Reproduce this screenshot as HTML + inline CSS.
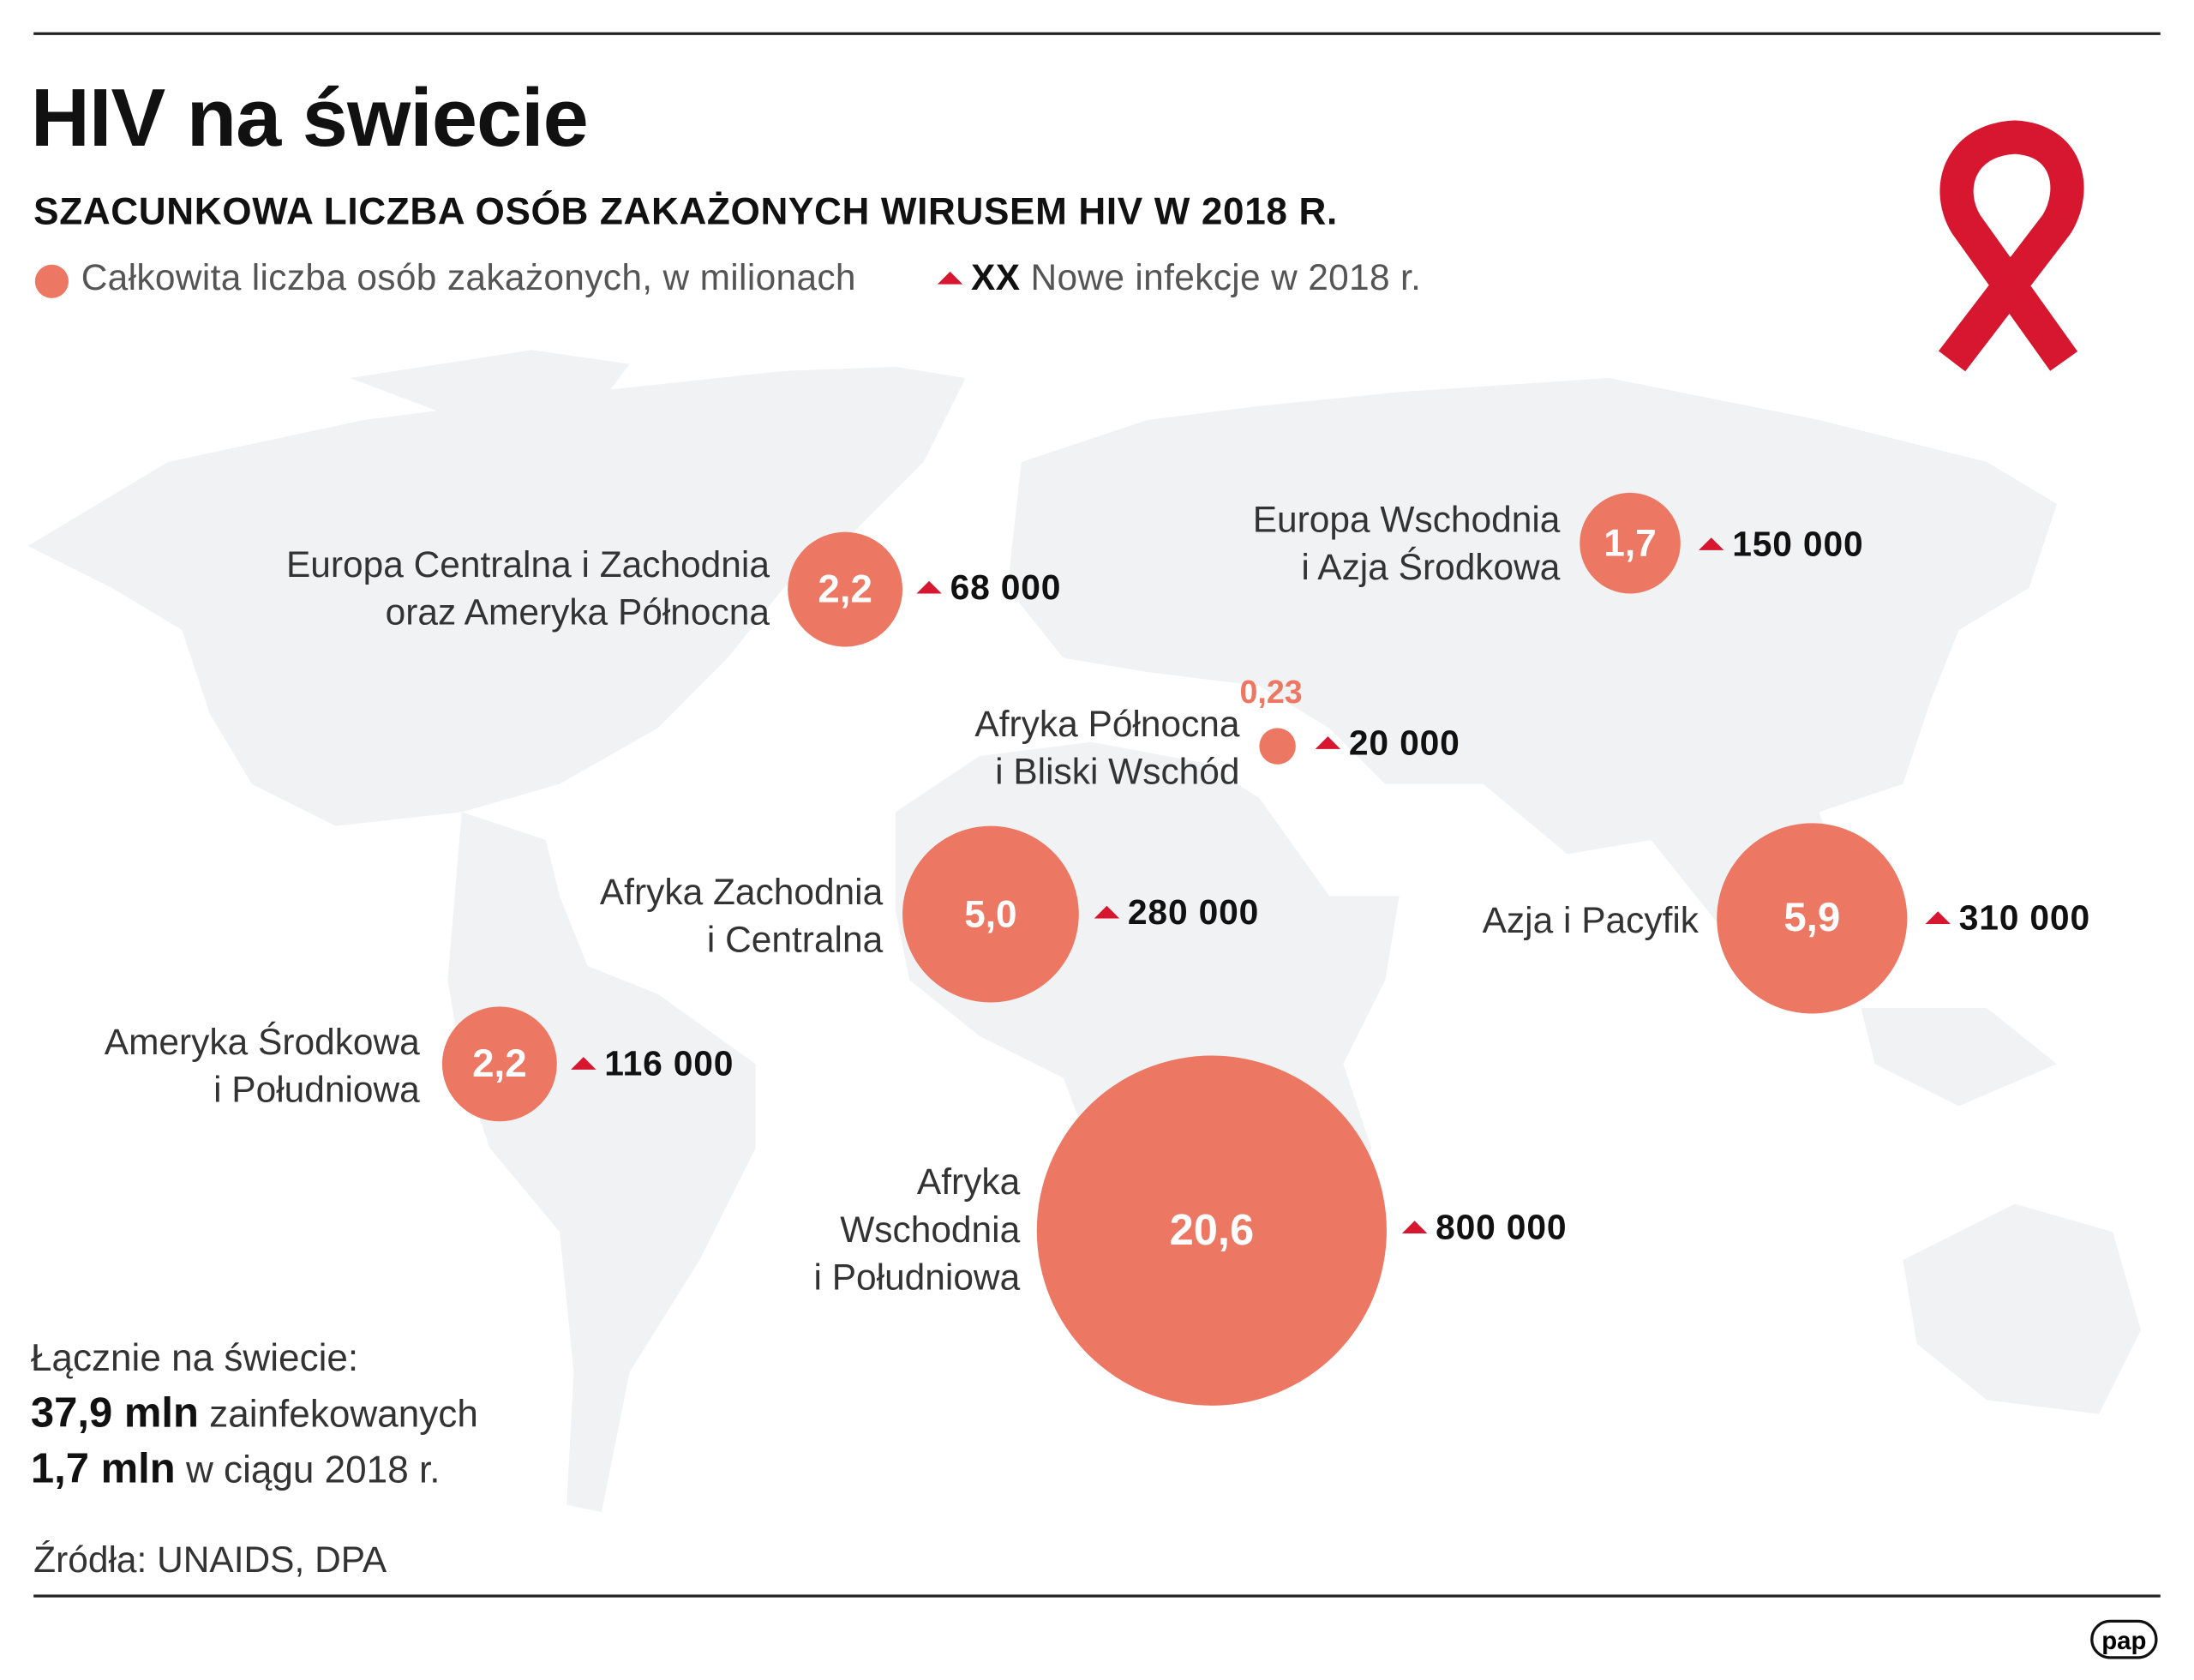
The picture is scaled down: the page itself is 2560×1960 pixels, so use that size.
<!DOCTYPE html>
<html><head><meta charset="utf-8"><style>
html,body{margin:0;padding:0;background:#fff;}
#wrap{width:1568px;height:1200px;position:relative;transform:scale(1.63265,1.63333);transform-origin:0 0;font-family:"Liberation Sans",sans-serif;overflow:hidden;}
.t{position:absolute;white-space:nowrap;}
.r{text-align:right;}
.lab{font-size:26px;color:#333;line-height:34px;}
.num{font-size:25px;font-weight:bold;color:#111;letter-spacing:0.5px;}
.c{position:absolute;border-radius:50%;background:#ec7863;color:#fff;font-weight:bold;display:flex;align-items:center;justify-content:center;}
.tri{display:inline-block;width:0;height:0;border-left:9px solid transparent;border-right:9px solid transparent;border-bottom:9px solid #d6172f;margin-right:6px;vertical-align:4px;}
</style></head><body><div id="wrap">
<svg width="1568" height="1200" style="position:absolute;left:0;top:0">
<g fill="#f0f2f3">
<path d="M20,390 L120,330 L260,300 L420,280 L560,265 L640,262 L690,270 L660,330 L610,380 L560,420 L520,470 L470,520 L400,560 L330,580 L240,590 L180,560 L150,510 L130,450 L80,420 Z"/>
<path d="M330,580 L390,600 L400,640 L420,690 L470,710 L540,760 L540,820 L500,900 L450,980 L430,1080 L405,1075 L410,980 L400,880 L350,820 L330,760 L320,700 Z"/>
<path d="M640,580 L700,540 L780,530 L860,545 L900,570 L950,640 L1000,640 L990,700 L960,760 L980,820 L960,880 L940,950 L890,1000 L850,1000 L810,920 L790,850 L760,770 L700,740 L650,700 L640,650 Z"/>
<path d="M730,330 L820,300 L900,290 L1000,280 L1150,270 L1300,300 L1420,330 L1470,360 L1450,420 L1400,450 L1380,500 L1360,560 L1300,580 L1320,640 L1260,700 L1220,650 L1180,600 L1120,610 L1060,560 L990,560 L950,520 L900,490 L820,480 L760,470 L720,420 Z"/>
<path d="M1330,720 L1420,720 L1470,760 L1400,790 L1340,760 Z"/>
<path d="M1360,900 L1440,860 L1510,880 L1530,950 L1500,1010 L1420,1000 L1370,960 Z"/>
<path d="M250,270 L380,250 L450,260 L420,300 L330,300 Z"/>
</g>
<line x1="24" y1="24" x2="1544" y2="24" stroke="#222" stroke-width="2"/>
<line x1="24" y1="1140" x2="1544" y2="1140" stroke="#222" stroke-width="2"/>
<g fill="none" stroke="#d6172f" stroke-width="24" stroke-linejoin="round">
<path d="M1475,258 L1405,160 C1390,135 1400,100 1440,98 C1478,100 1485,135 1470,160 L1395,258"/>
</g>
</svg>
<div class="t" style="left:22px;top:51px;font-size:58.5px;font-weight:bold;color:#111;letter-spacing:-0.6px">HIV na świecie</div>
<div class="t" style="left:24px;top:136px;font-size:27px;font-weight:bold;color:#111;letter-spacing:0.4px">SZACUNKOWA LICZBA OSÓB ZAKAŻONYCH WIRUSEM HIV W 2018 R.</div>
<div class="c" style="left:25px;top:189px;width:24px;height:24px"></div>
<div class="t" style="left:58px;top:183px;font-size:26px;color:#555;letter-spacing:0.2px">Całkowita liczba osób zakażonych, w milionach</div>
<div class="t" style="left:670px;top:183px;font-size:26px;color:#555;letter-spacing:0.2px"><span class="tri"></span><b style="color:#111">XX</b> Nowe infekcje w 2018 r.</div>

<div class="t r lab" style="right:1018px;top:386px">Europa Centralna i Zachodnia<br>oraz Ameryka Północna</div>
<div class="c" style="left:563px;top:380px;width:82px;height:82px;font-size:28px">2,2</div>
<div class="t num" style="left:655px;top:406px"><span class="tri"></span>68 000</div>

<div class="t r lab" style="right:453px;top:354px">Europa Wschodnia<br>i Azja Środkowa</div>
<div class="c" style="left:1129px;top:352px;width:72px;height:72px;font-size:27px">1,7</div>
<div class="t num" style="left:1214px;top:375px"><span class="tri"></span>150 000</div>

<div class="t" style="left:886px;top:481px;font-size:23px;font-weight:bold;color:#ec7863">0,23</div>
<div class="t r lab" style="right:682px;top:500px">Afryka Północna<br>i Bliski Wschód</div>
<div class="c" style="left:900px;top:520px;width:26px;height:26px"></div>
<div class="t num" style="left:940px;top:517px"><span class="tri"></span>20 000</div>

<div class="t r lab" style="right:937px;top:620px">Afryka Zachodnia<br>i Centralna</div>
<div class="c" style="left:645px;top:590px;width:126px;height:126px;font-size:27px">5,0</div>
<div class="t num" style="left:782px;top:638px"><span class="tri"></span>280 000</div>

<div class="t r lab" style="right:354px;top:640px">Azja i Pacyfik</div>
<div class="c" style="left:1227px;top:588px;width:136px;height:136px;font-size:29px">5,9</div>
<div class="t num" style="left:1376px;top:642px"><span class="tri"></span>310 000</div>

<div class="t r lab" style="right:1268px;top:727px">Ameryka Środkowa<br>i Południowa</div>
<div class="c" style="left:316px;top:719px;width:82px;height:82px;font-size:28px">2,2</div>
<div class="t num" style="left:408px;top:746px"><span class="tri"></span>116 000</div>

<div class="t r lab" style="right:839px;top:827px">Afryka<br>Wschodnia<br>i Południowa</div>
<div class="c" style="left:741px;top:754px;width:250px;height:250px;font-size:31px">20,6</div>
<div class="t num" style="left:1002px;top:863px"><span class="tri"></span>800 000</div>

<div class="t" style="left:22px;top:951px;font-size:27px;color:#333;line-height:39px">Łącznie na świecie:<br><b style="color:#111;font-size:30px">37,9 mln</b> zainfekowanych<br><b style="color:#111;font-size:30px">1,7 mln</b> w ciągu 2018 r.</div>
<div class="t" style="left:24px;top:1099px;font-size:26px;color:#333">Źródła: UNAIDS, DPA</div>
<div class="t" style="left:1494px;top:1157px;width:48px;height:28px;border:2px solid #111;border-radius:16px;font-size:18px;font-weight:bold;text-align:center;line-height:26px;box-sizing:border-box">pap</div>
</div></body></html>
